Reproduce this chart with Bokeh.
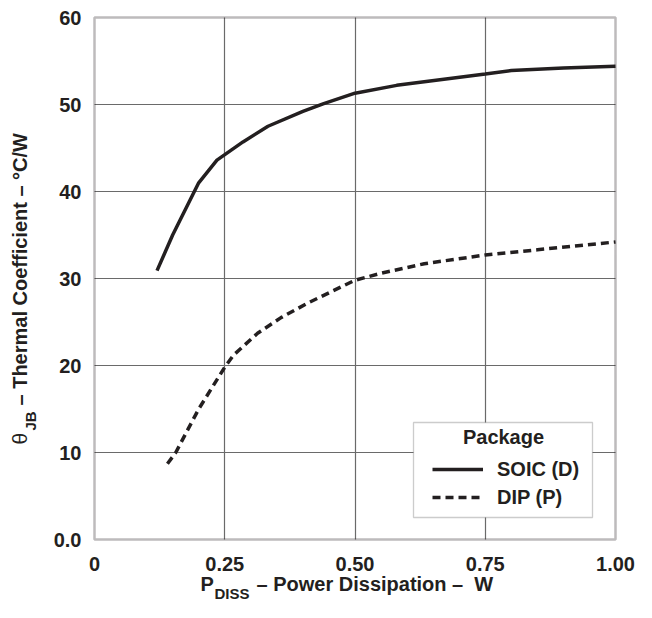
import math
from bokeh.plotting import figure
from bokeh.models import (Range1d, FixedTicker, Label, BoxAnnotation, Legend, LegendItem, Grid)
from bokeh.embed import file_html
from bokeh.resources import INLINE

# ---- data ----
soic_x = [0.12, 0.15, 0.20, 0.235, 0.285, 0.333, 0.40, 0.44, 0.50, 0.58, 0.75, 0.80, 0.90, 1.00]
soic_y = [30.9, 35.0, 41.0, 43.6, 45.7, 47.5, 49.2, 50.1, 51.3, 52.2, 53.5, 53.9, 54.2, 54.4]
dip_x = [0.14, 0.156, 0.20, 0.25, 0.267, 0.313, 0.358, 0.41, 0.50, 0.55, 0.633, 0.75, 0.85, 1.00]
dip_y = [8.7, 10.0, 15.0, 19.8, 21.2, 23.7, 25.5, 27.2, 29.8, 30.6, 31.7, 32.7, 33.3, 34.2]

x_ticks = [0, 0.25, 0.5, 0.75, 1.0]
x_tick_labels = ["0", "0.25", "0.50", "0.75", "1.00"]
y_ticks = [0, 10, 20, 30, 40, 50, 60]
y_tick_labels = ["0.0", "10", "20", "30", "40", "50", "60"]

series_names = ["SOIC (D)", "DIP (P)"]
legend_title = "Package"
xlabel_main, xlabel_sub, xlabel_rest = "P", "DISS", "\u2013 Power Dissipation \u2013\u00a0 W"
ylabel_sym, ylabel_sub, ylabel_rest = "\u03b8", "JB", "\u2013 Thermal Coefficient \u2013 \u00b0C/W"

INK = "#231f20"
FONT = "Liberation Sans"
W, H = 636, 602

# chart box in page pixels: left 94, right 615, top 17, bottom 539
FL, FR, FT, FB = 94, 615, 17, 539
XS = FR - FL            # px per x unit
YS = (FB - FT) / 60.0   # px per y unit
def dx(px):
    return (px - FL) / XS
def dy(py):
    return (FB - py) / YS

# the frame covers the whole canvas so that texts outside the chart box are not clipped
p = figure(width=W, height=H, output_backend="svg", toolbar_location=None,
           x_range=Range1d(dx(0), dx(W)), y_range=Range1d(dy(H), dy(0)),
           min_border=0, min_border_left=0, min_border_right=0,
           min_border_top=0, min_border_bottom=0)
p.background_fill_color = "white"
p.border_fill_color = "white"
p.outline_line_color = None

for ax in (p.xaxis, p.yaxis):
    ax.fixed_location = 0
    ax.axis_line_color = None
    ax.major_tick_line_color = None
    ax.minor_tick_line_color = None
    ax.major_label_text_font = FONT
    ax.major_label_text_font_style = "bold"
    ax.major_label_text_font_size = "20px"
    ax.major_label_text_color = INK

p.xaxis.ticker = FixedTicker(ticks=x_ticks)
p.xaxis.major_label_overrides = {t: l for t, l in zip(x_ticks, x_tick_labels)}
p.xaxis.major_label_standoff = 11
p.yaxis.ticker = FixedTicker(ticks=y_ticks)
p.yaxis.major_label_overrides = {t: l for t, l in zip(y_ticks, y_tick_labels)}
p.yaxis.major_label_standoff = 7

grid_x = x_ticks[1:-1]
grid_y = y_ticks[1:-1]
if "cross_bounds" in Grid.properties():
    p.xgrid.ticker = FixedTicker(ticks=grid_x)
    p.ygrid.ticker = FixedTicker(ticks=grid_y)
    p.xgrid.cross_bounds = (y_ticks[0], y_ticks[-1])
    p.ygrid.cross_bounds = (x_ticks[0], x_ticks[-1])
    for g in (p.xgrid, p.ygrid):
        g.grid_line_color = "#6a6a6a"
        g.grid_line_width = 1.2
else:
    p.xgrid.visible = False
    p.ygrid.visible = False
    p.segment(x0=grid_x, y0=[y_ticks[0]] * len(grid_x), x1=grid_x, y1=[y_ticks[-1]] * len(grid_x),
              line_color="#6a6a6a", line_width=1.2)
    p.segment(x0=[x_ticks[0]] * len(grid_y), y0=grid_y, x1=[x_ticks[-1]] * len(grid_y), y1=grid_y,
              line_color="#6a6a6a", line_width=1.2)

# chart box outline
p.add_layout(BoxAnnotation(left=x_ticks[0], right=x_ticks[-1], bottom=y_ticks[0], top=y_ticks[-1],
                           fill_alpha=0, line_color=INK, line_width=2.5, level="overlay"))

r1 = p.line(soic_x, soic_y, line_color=INK, line_width=3.5)
r2 = p.line(dip_x, dip_y, line_color=INK, line_width=3.5, line_dash="8 5")

# legend frame
p.add_layout(BoxAnnotation(left=dx(413), right=dx(592), top=dy(422), bottom=dy(517),
                           fill_color="white", fill_alpha=1.0, line_color="#555555",
                           line_width=1.3))

legend = Legend(items=[LegendItem(label=series_names[0], renderers=[r1]),
                       LegendItem(label=series_names[1], renderers=[r2])],
                location=(432, H - 511), padding=0, spacing=0, margin=0,
                glyph_width=51, glyph_height=28, label_height=28, label_standoff=14,
                label_text_font=FONT, label_text_font_style="bold",
                label_text_font_size="20px", label_text_color=INK,
                background_fill_alpha=0, border_line_alpha=0)
p.add_layout(legend)

p.add_layout(Label(x=dx(503), y=dy(447), text=legend_title, text_align="center",
                   text_font=FONT, text_font_style="bold", text_font_size="20px",
                   text_color=INK))

# x axis label with subscript
p.add_layout(Label(x=dx(200), y=dy(594), text=xlabel_main, text_font=FONT,
                   text_font_style="bold", text_font_size="20px", text_color=INK))
p.add_layout(Label(x=dx(214), y=dy(601), text=xlabel_sub, text_font=FONT,
                   text_font_style="bold", text_font_size="15px", text_color=INK))
p.add_layout(Label(x=dx(256), y=dy(594), text=xlabel_rest, text_font=FONT,
                   text_font_style="bold", text_font_size="20px", text_color=INK))

# y axis label (rotated) with subscript
p.add_layout(Label(x=dx(30), y=dy(444), text=ylabel_sym, angle=math.pi / 2, text_font=FONT,
                   text_font_size="21px", text_color=INK))
p.add_layout(Label(x=dx(38), y=dy(430), text=ylabel_sub, angle=math.pi / 2, text_font=FONT,
                   text_font_style="bold", text_font_size="15px", text_color=INK))
p.add_layout(Label(x=dx(30), y=dy(405), text=ylabel_rest, angle=math.pi / 2, text_font=FONT,
                   text_font_style="bold", text_font_size="20px", text_color=INK))

open("out.html", "w").write(file_html(p, INLINE))
